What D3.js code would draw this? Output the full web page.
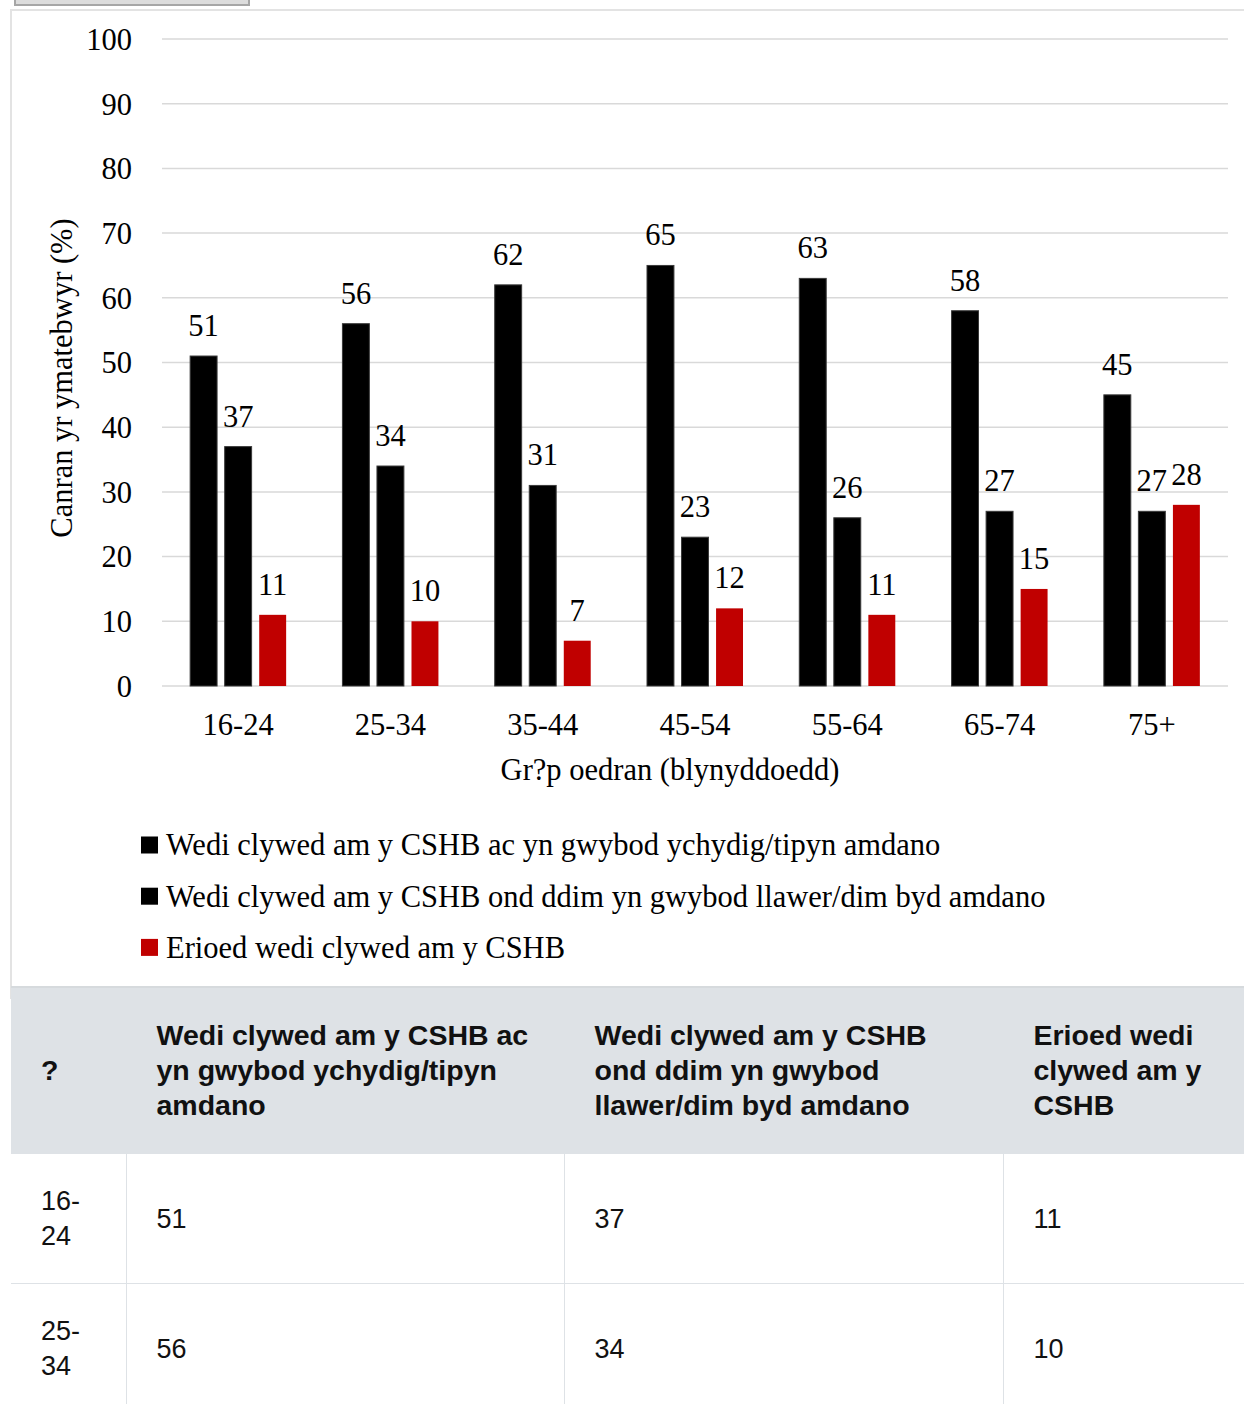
<!DOCTYPE html>
<html>
<head>
<meta charset="utf-8">
<script src="https://cdn.jsdelivr.net/npm/d3@7"></script>
<style>
html, body { margin:0; padding:0; background:#fff; width:1244px; height:1404px; overflow:hidden; }
#btn { position:absolute; left:14px; top:-30px; width:232px; height:32px; background:#dcdcdc; border:2px solid #a6a6a6; }
#box { position:absolute; left:10px; top:9px; width:1260px; height:990px; border:2px solid #e3e3e3; box-sizing:border-box; }
#chart { position:absolute; left:0; top:0; }
#tbl { position:absolute; left:11px; top:986px; width:1233px; border-collapse:collapse; table-layout:fixed;
  font-family:"Liberation Sans", Arial, sans-serif; font-size:27px; line-height:35px; color:#111; }
#tbl th, #tbl td { padding:30px 30px 29px 30px; text-align:left; vertical-align:middle; border:1px solid #dee2e6; }
#tbl thead tr { background:#dee2e6; }
#tbl th { font-weight:bold; font-size:28.5px; border-top:2px solid #d6dadd; padding-top:30px; padding-bottom:30px; }
#tbl td:first-child, #tbl th:first-child { border-left:none; }
</style>
</head>
<body>
<div id="btn"></div>
<div id="box"></div>
<svg id="chart" width="1244" height="980"></svg>
<table id="tbl"></table>
<script>
const categories = ["16-24","25-34","35-44","45-54","55-64","65-74","75+"];
const seriesNames = [
  "Wedi clywed am y CSHB ac yn gwybod ychydig/tipyn amdano",
  "Wedi clywed am y CSHB ond ddim yn gwybod llawer/dim byd amdano",
  "Erioed wedi clywed am y CSHB"
];
const series1 = [51,56,62,65,63,58,45];
const series2 = [37,34,31,23,26,27,27];
const series3 = [11,10,7,12,11,15,28];
const seriesColors = ["#000000","#000000","#c00000"];
const yTicks = [0,10,20,30,40,50,60,70,80,90,100];
const yTitle = "Canran yr ymatebwyr (%)";
const xTitle = "Gr?p oedran (blynyddoedd)";
const cornerHeader = "?";

const allSeries = [series1, series2, series3];
const svg = d3.select("#chart");
const serif = "'Liberation Serif','Times New Roman',serif";
const fs = 30.5;

const x0 = d3.scaleBand().domain(categories).range([162, 1228]).padding(0);
const x1 = d3.scaleBand().domain([0,1,2]).range([-48, 48]).paddingInner(0.22).paddingOuter(0);
const y = d3.scaleLinear().domain([0,100]).range([686, 39]);

// gridlines
svg.append("g").selectAll("line").data(yTicks).join("line")
  .attr("x1", 162).attr("x2", 1228)
  .attr("y1", d => y(d)).attr("y2", d => y(d))
  .attr("stroke", "#d9d9d9").attr("stroke-width", 1.5);

// y axis labels
const yAxis = d3.axisLeft(y).tickValues(yTicks).tickSize(0).tickPadding(0);
const yg = svg.append("g").attr("transform", "translate(132,0)").call(yAxis);
yg.select(".domain").remove();
yg.selectAll("text").attr("font-family", serif).attr("font-size", fs).attr("fill", "#000").attr("dy", "0.34em");

// x axis labels
const xAxis = d3.axisBottom(x0).tickSize(0).tickPadding(0);
const xg = svg.append("g").attr("transform", "translate(0,725)").call(xAxis);
xg.select(".domain").remove();
xg.selectAll("text").attr("font-family", serif).attr("font-size", fs).attr("fill", "#000").attr("dy", "0.34em");

// bars
const groups = svg.append("g").selectAll("g").data(categories).join("g")
  .attr("transform", d => `translate(${x0(d) + x0.bandwidth()/2},0)`);

groups.each(function(cat, ci) {
  const g = d3.select(this);
  const vals = allSeries.map((s, si) => ({si, v: s[ci]}));
  g.selectAll("rect").data(vals).join("rect")
    .attr("x", d => x1(d.si)).attr("width", x1.bandwidth())
    .attr("y", d => y(d.v)).attr("height", d => y(0) - y(d.v))
    .attr("fill", d => seriesColors[d.si])
    .attr("stroke", d => d.si < 2 ? "#3a3a3a" : "none").attr("stroke-width", 1);
  g.selectAll("text").data(vals).join("text")
    .attr("x", d => x1(d.si) + x1.bandwidth()/2)
    .attr("y", d => y(d.v) - 20)
    .attr("text-anchor", "middle")
    .attr("font-family", serif).attr("font-size", fs).attr("fill", "#000")
    .text(d => d.v);
});

// axis titles
svg.append("text").attr("transform", "translate(72,378) rotate(-90)")
  .attr("text-anchor", "middle").attr("font-family", serif).attr("font-size", fs)
  .text(yTitle);
svg.append("text").attr("x", 670).attr("y", 780)
  .attr("text-anchor", "middle").attr("font-family", serif).attr("font-size", fs)
  .text(xTitle);

// legend
const lg = svg.append("g").selectAll("g").data(seriesNames).join("g")
  .attr("transform", (d, i) => `translate(141,${845 + i*51.2})`);
lg.append("rect").attr("x", 0).attr("y", -8.5).attr("width", 17).attr("height", 17)
  .attr("fill", (d, i) => seriesColors[i]);
lg.append("text").attr("x", 25).attr("y", 0).attr("dy", "0.34em")
  .attr("font-family", serif).attr("font-size", fs).text(d => d);

// table
const tbl = d3.select("#tbl");
const cg = tbl.append("colgroup");
[115, 438, 439, 241].forEach(w => cg.append("col").style("width", w + "px"));
tbl.append("thead").append("tr").selectAll("th").data([cornerHeader, ...seriesNames]).join("th").text(d => d);
tbl.append("tbody").selectAll("tr").data(categories).join("tr")
  .selectAll("td").data((c, i) => [c, series1[i], series2[i], series3[i]]).join("td").text(d => d);
</script>
</body>
</html>
